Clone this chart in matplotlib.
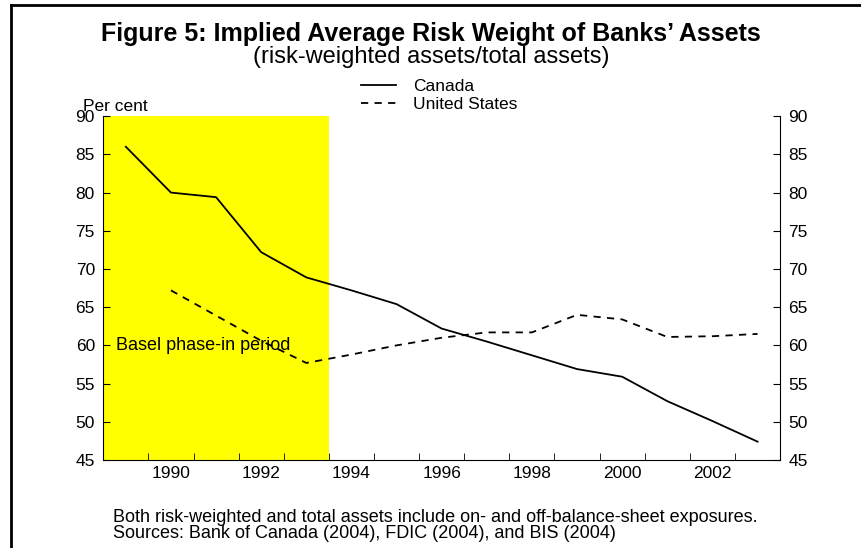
import numpy as np
import matplotlib
matplotlib.use("Agg")
import matplotlib.pyplot as plt
from matplotlib.lines import Line2D

plt.rcParams['font.family'] = ['Liberation Sans', 'DejaVu Sans']

YEARS = list(range(1989, 2004))
CANADA = [86.0, 80.0, 79.4, 72.2, 68.9, 67.2, 65.4, 62.2, 60.5, 58.7, 56.9, 55.9, 52.7, 50.1, 47.4]
US_YEARS = list(range(1990, 2004))
US = [67.2, 63.9, 60.6, 57.7, 58.8, 60.0, 61.0, 61.7, 61.7, 64.0, 63.4, 61.1, 61.2, 61.5]
YTICKS = [45, 50, 55, 60, 65, 70, 75, 80, 85, 90]
XLABELS = [1990, 1992, 1994, 1996, 1998, 2000, 2002]
SHADE = (1989, 1993)

fig = plt.figure(figsize=(8.62, 5.48), dpi=100)
ax = fig.add_axes([0.1198, 0.1606, 0.905 - 0.1198, 0.788 - 0.1606])

ax.axvspan(SHADE[0] - 0.5, SHADE[1] + 0.5, color='#ffff00', zorder=0, lw=0)
ax.plot(YEARS, CANADA, color='black', lw=1.3, label='Canada')
ax.plot(US_YEARS, US, color='black', lw=1.3, ls=(0, (4, 3.5)), label='United States')

ax.set_xlim(YEARS[0] - 0.5, YEARS[-1] + 0.5)
ax.set_ylim(45, 90)
ax.spines['top'].set_visible(False)

# year labels centred, tick marks at year boundaries
ax.set_xticks(XLABELS)
ax.set_xticklabels([str(y) for y in XLABELS], fontsize=12.5)
ax.tick_params(axis='x', which='major', length=0, pad=4)
ax.set_xticks(np.arange(YEARS[0] + 0.5, YEARS[-1] + 0.5, 1.0), minor=True)
ax.tick_params(axis='x', which='minor', direction='in', length=5)

ax.set_yticks(YTICKS)
ax.tick_params(axis='y', direction='in', length=5, labelsize=12.5,
               left=True, right=True, labelleft=True, labelright=True, pad=6)

ax.text(SHADE[0] - 0.22, 60, 'Basel phase-in period', fontsize=13, va='center', ha='left')

fig.text(0.5, 1 - 41.5 / 548, "Figure 5: Implied Average Risk Weight of Banks\u2019 Assets",
         ha='center', va='baseline', fontsize=18, fontweight='bold')
fig.text(0.5, 1 - 62.5 / 548, "(risk-weighted assets/total assets)",
         ha='center', va='baseline', fontsize=17)
fig.text(0.096, 0.805, 'Per cent', fontsize=12.5, ha='left', va='center')

ax.legend(loc='center', bbox_to_anchor=(0.510, 0.8256), bbox_transform=fig.transFigure,
          frameon=False, fontsize=12.5, handlelength=2.0, handletextpad=1.0,
          labelspacing=0.2)

fig.text(0.131, 0.041, "Both risk-weighted and total assets include on- and off-balance-sheet exposures.\n"
         "Sources: Bank of Canada (2004), FDIC (2004), and BIS (2004)",
         fontsize=13, ha='left', va='center', linespacing=0.95)

# outer frame (top and left edges visible)
fig.add_artist(Line2D([11 / 862, 11 / 862], [0, 1 - 5 / 548], color='black', lw=2,
                      transform=fig.transFigure))
fig.add_artist(Line2D([11 / 862, 1], [1 - 5 / 548, 1 - 5 / 548], color='black', lw=2,
                      transform=fig.transFigure))

fig.savefig('out.png', dpi=100)
